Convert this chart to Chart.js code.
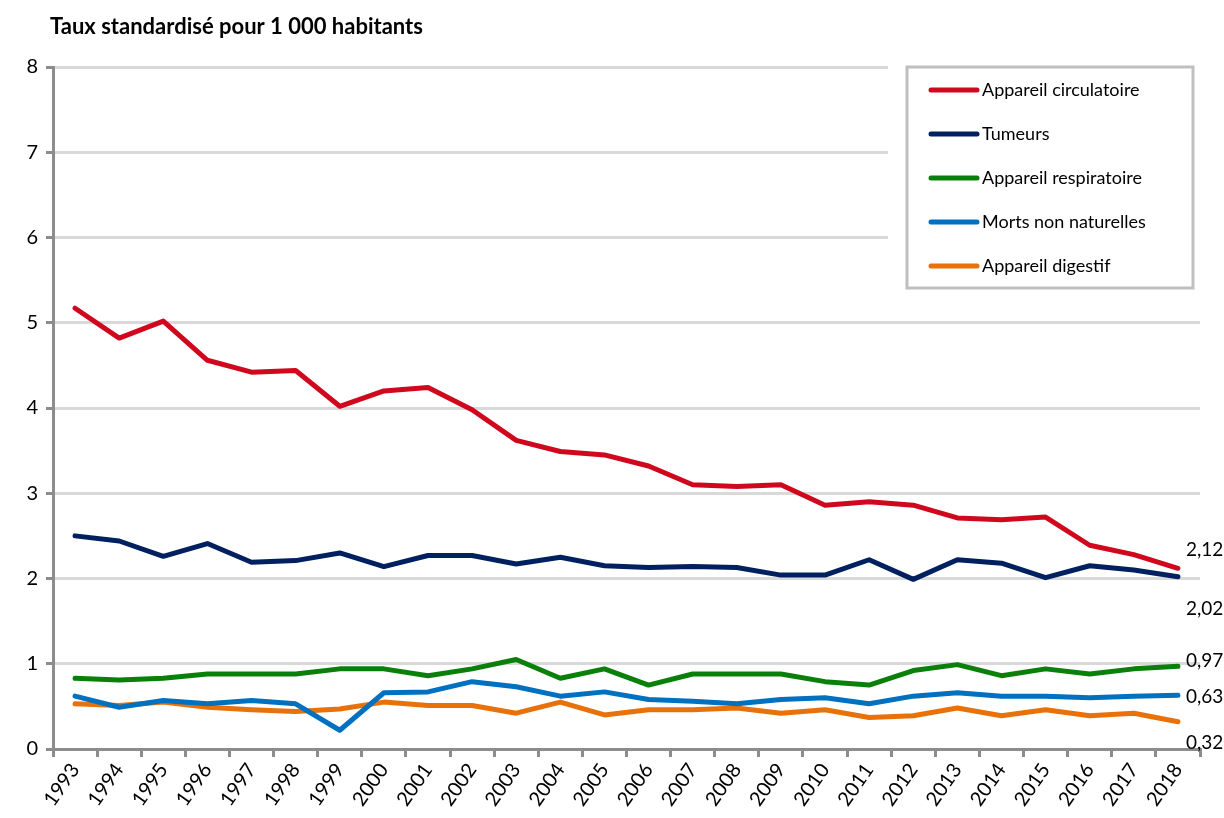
<!DOCTYPE html>
<html>
<head>
<meta charset="utf-8">
<script src="https://cdn.jsdelivr.net/npm/chart.js@4"></script>
<style>
  html, body { margin: 0; padding: 0; background: #fff; }
</style>
</head>
<body>
<canvas id="chart" width="1224" height="818"></canvas>
<script>
const years = ['1993', '1994', '1995', '1996', '1997', '1998', '1999', '2000', '2001', '2002', '2003', '2004', '2005',
               '2006', '2007', '2008', '2009', '2010', '2011', '2012', '2013', '2014', '2015', '2016', '2017', '2018'];

const circulatoire = [5.17, 4.82, 5.02, 4.56, 4.42, 4.44, 4.02, 4.20, 4.24, 3.98, 3.62, 3.49, 3.45,
                      3.32, 3.10, 3.08, 3.10, 2.86, 2.90, 2.86, 2.71, 2.69, 2.72, 2.39, 2.28, 2.12];
const tumeurs = [2.50, 2.44, 2.26, 2.41, 2.19, 2.21, 2.30, 2.14, 2.27, 2.27, 2.17, 2.25, 2.15,
                 2.13, 2.14, 2.13, 2.04, 2.04, 2.22, 1.99, 2.22, 2.18, 2.01, 2.15, 2.10, 2.02];
const respiratoire = [0.83, 0.81, 0.83, 0.88, 0.88, 0.88, 0.94, 0.94, 0.86, 0.94, 1.05, 0.83, 0.94,
                      0.75, 0.88, 0.88, 0.88, 0.79, 0.75, 0.92, 0.99, 0.86, 0.94, 0.88, 0.94, 0.97];
const nonNaturelles = [0.62, 0.49, 0.57, 0.53, 0.57, 0.53, 0.22, 0.66, 0.67, 0.79, 0.73, 0.62, 0.67,
                       0.58, 0.56, 0.53, 0.58, 0.60, 0.53, 0.62, 0.66, 0.62, 0.62, 0.60, 0.62, 0.63];
const digestif = [0.53, 0.51, 0.55, 0.49, 0.46, 0.44, 0.47, 0.55, 0.51, 0.51, 0.42, 0.55, 0.40,
                  0.46, 0.46, 0.48, 0.42, 0.46, 0.37, 0.39, 0.48, 0.39, 0.46, 0.39, 0.42, 0.32];

const seriesNames = ['Appareil circulatoire', 'Tumeurs', 'Appareil respiratoire', 'Morts non naturelles', 'Appareil digestif'];
const seriesColors = ['#d0081e', '#002060', '#0a800a', '#0070c0', '#e8710a'];
const seriesValues = [circulatoire, tumeurs, respiratoire, nonNaturelles, digestif];

// vertical shift of the end-of-line labels so they do not overlap
const endLabelShift = [-18, 32, -5, 2, 21];

const FONT = 'Lato, "Noto Sans", sans-serif';

const titlePlugin = {
    id: 'leftTitle',
    afterDraw(chart) {
        const ctx = chart.ctx;
        ctx.save();
        ctx.fillStyle = '#000';
        ctx.font = 'bold 22px ' + FONT;
        ctx.textBaseline = 'middle';
        ctx.textAlign = 'left';
        ctx.fillText('Taux standardisé pour 1 000 habitants', 50, 27);
        ctx.restore();
    }
};

const endLabelsPlugin = {
    id: 'endLabels',
    afterDatasetsDraw(chart) {
        const ctx = chart.ctx;
        ctx.save();
        ctx.fillStyle = '#000';
        ctx.font = '19px ' + FONT;
        ctx.textBaseline = 'middle';
        ctx.textAlign = 'left';
        chart.data.datasets.forEach((ds, i) => {
            const meta = chart.getDatasetMeta(i);
            const last = meta.data[meta.data.length - 1];
            const value = ds.data[ds.data.length - 1];
            ctx.fillText(value.toFixed(2).replace('.', ','), last.x + 8, last.y + endLabelShift[i]);
        });
        ctx.restore();
    }
};

const boxLegendPlugin = {
    id: 'boxLegend',
    afterDraw(chart) {
        const ctx = chart.ctx;
        ctx.save();
        // hide the gridlines behind the legend
        ctx.fillStyle = '#fff';
        ctx.fillRect(888, 55, 325, 236);
        ctx.strokeStyle = '#bfbfbf';
        ctx.lineWidth = 3;
        ctx.strokeRect(907, 67, 286, 221);
        ctx.font = '18px ' + FONT;
        ctx.textBaseline = 'middle';
        ctx.textAlign = 'left';
        chart.data.datasets.forEach((ds, i) => {
            const y = 90 + i * 44;
            ctx.strokeStyle = ds.borderColor;
            ctx.lineWidth = 5;
            ctx.lineCap = 'round';
            ctx.beginPath();
            ctx.moveTo(931, y);
            ctx.lineTo(977, y);
            ctx.stroke();
            ctx.fillStyle = '#000';
            ctx.fillText(ds.label, 982, y);
        });
        ctx.restore();
    }
};

const datasets = [];
for (let i = 0; i < seriesNames.length; i++) {
    datasets.push({
        label: seriesNames[i],
        data: seriesValues[i],
        borderColor: seriesColors[i],
        backgroundColor: seriesColors[i],
        borderWidth: 5,
        pointRadius: 0,
        tension: 0,
        borderJoinStyle: 'round',
        borderCapStyle: 'round',
        clip: false,
    });
}

const ctx = document.getElementById('chart').getContext('2d');
new Chart(ctx, {
    type: 'line',
    data: { labels: years, datasets: datasets },
    options: {
        responsive: false,
        animation: false,
        layout: { padding: { top: 67, right: 24, left: 0, bottom: 0 } },
        plugins: {
            legend: { display: false },
            title: { display: false },
            tooltip: { enabled: false },
        },
        scales: {
            x: {
                type: 'category',
                offset: true,
                grid: {
                    display: true,
                    drawOnChartArea: false,
                    offset: true,
                    color: '#8c8c8c',
                    lineWidth: 3,
                    tickLength: 8,
                },
                border: { color: '#8c8c8c', width: 3 },
                ticks: {
                    color: '#000',
                    font: { family: FONT, size: 20 },
                    minRotation: 55,
                    maxRotation: 55,
                    autoSkip: false,
                    padding: 2,
                },
                afterFit(scale) { scale.height = 69; },
            },
            y: {
                min: 0,
                max: 8,
                ticks: {
                    stepSize: 1,
                    color: '#000',
                    font: { family: FONT, size: 20 },
                    padding: 8,
                },
                grid: {
                    color: '#d9d9d9',
                    lineWidth: 3,
                    tickColor: '#8c8c8c',
                    tickLength: 7,
                },
                border: { color: '#8c8c8c', width: 3 },
                afterFit(scale) { scale.width = 53; },
            },
        },
    },
    plugins: [titlePlugin, endLabelsPlugin, boxLegendPlugin],
});
</script>
</body>
</html>
